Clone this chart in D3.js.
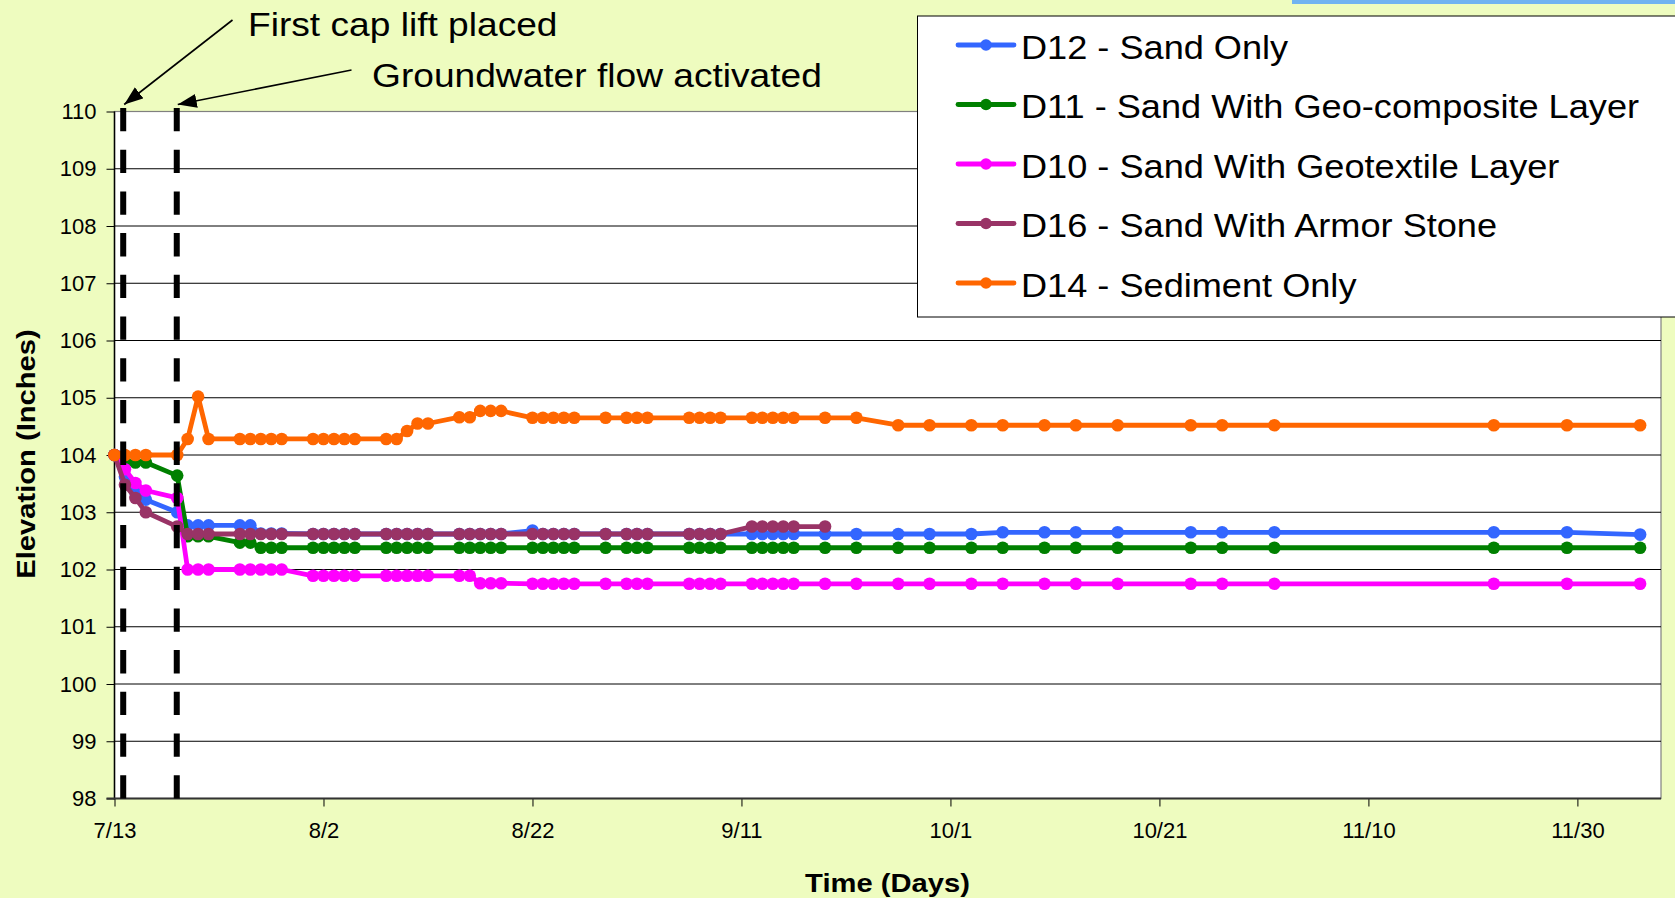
<!DOCTYPE html>
<html lang="en">
<head>
<meta charset="UTF-8">
<title>Cap elevation</title>
<script src="https://d3js.org/d3.v7.min.js"></script>
<style>
    html, body { margin: 0; height: 100%; overflow: hidden; background: #eefcbf; }
    text { font-family: "Liberation Sans", Arial, sans-serif; fill: #000; }
</style>
</head>
<body>
<svg id="svg"></svg>
<script>
    // sampling dates (M/D), all in one season
    const dates = ['7/13','7/14','7/15','7/16','7/19','7/20','7/21','7/22','7/25','7/26',
        '7/27','7/28','7/29','8/1','8/2','8/3','8/4','8/5','8/8','8/9',
        '8/10','8/11','8/12','8/15','8/16','8/17','8/18','8/19','8/22','8/23',
        '8/24','8/25','8/26','8/29','8/31','9/1','9/2','9/6','9/7','9/8',
        '9/9','9/12','9/13','9/14','9/15','9/16','9/19','9/22','9/26','9/29',
        '10/3','10/6','10/10','10/13','10/17','10/24','10/27','11/1','11/22','11/29',
        '12/6'];

    const d12 = [104,103.62,103.35,103.22,103.0,102.77,102.77,102.77,102.77,102.77,
        102.63,102.63,102.63,102.62,102.62,102.62,102.62,102.62,102.62,102.62,
        102.62,102.62,102.62,102.62,102.62,102.62,102.62,102.62,102.68,102.62,
        102.62,102.62,102.62,102.62,102.62,102.62,102.62,102.62,102.62,102.62,
        102.62,102.62,102.62,102.62,102.62,102.62,102.62,102.62,102.62,102.62,
        102.62,102.65,102.65,102.65,102.65,102.65,102.65,102.65,102.65,102.65,
        102.61];
    const d11 = [104,103.87,103.87,103.87,103.64,102.58,102.58,102.58,102.47,102.47,
        102.38,102.38,102.38,102.38,102.38,102.38,102.38,102.38,102.38,102.38,
        102.38,102.38,102.38,102.38,102.38,102.38,102.38,102.38,102.38,102.38,
        102.38,102.38,102.38,102.38,102.38,102.38,102.38,102.38,102.38,102.38,
        102.38,102.38,102.38,102.38,102.38,102.38,102.38,102.38,102.38,102.38,
        102.38,102.38,102.38,102.38,102.38,102.38,102.38,102.38,102.38,102.38,
        102.38];
    const d10 = [104,103.75,103.51,103.38,103.25,102.0,102.0,102.0,102.0,102.0,
        102.0,102.0,102.0,101.89,101.89,101.89,101.89,101.89,101.89,101.89,
        101.89,101.89,101.89,101.89,101.89,101.76,101.76,101.76,101.75,101.75,
        101.75,101.75,101.75,101.75,101.75,101.75,101.75,101.75,101.75,101.75,
        101.75,101.75,101.75,101.75,101.75,101.75,101.75,101.75,101.75,101.75,
        101.75,101.75,101.75,101.75,101.75,101.75,101.75,101.75,101.75,101.75,
        101.75];
    const d16 = [104,103.48,103.25,103.0,102.75,102.62,102.62,102.62,102.62,102.62,
        102.62,102.62,102.62,102.62,102.62,102.62,102.62,102.62,102.62,102.62,
        102.62,102.62,102.62,102.62,102.62,102.62,102.62,102.62,102.62,102.62,
        102.62,102.62,102.62,102.62,102.62,102.62,102.62,102.62,102.62,102.62,
        102.62,102.75,102.75,102.75,102.75,102.75,102.75,null,null,null,
        null,null,null,null,null,null,null,null,null,null,
        null];
    const d14 = [104,104,104,104,104,104.28,105.02,104.28,104.28,104.28,
        104.28,104.28,104.28,104.28,104.28,104.28,104.28,104.28,104.28,104.28,
        104.42,104.55,104.55,104.66,104.66,104.77,104.77,104.77,104.65,104.65,
        104.65,104.65,104.65,104.65,104.65,104.65,104.65,104.65,104.65,104.65,
        104.65,104.65,104.65,104.65,104.65,104.65,104.65,104.65,104.52,104.52,
        104.52,104.52,104.52,104.52,104.52,104.52,104.52,104.52,104.52,104.52,
        104.52];

    const seriesNames = ['D12 - Sand Only', 'D11 - Sand With Geo-composite Layer',
        'D10 - Sand With Geotextile Layer', 'D16 - Sand With Armor Stone', 'D14 - Sediment Only'];
    const seriesValues = [d12, d11, d10, d16, d14];
    const colors = ['#3366ff', '#008000', '#ff00ff', '#993366', '#ff6600'];

    const xTickLabels = ['7/13','8/2','8/22','9/11','10/1','10/21','11/10','11/30'];
    const yTicks = [98,99,100,101,102,103,104,105,106,107,108,109,110];
    const xStart = '7/13', xEnd = '12/8';

    // events: days after first date, label
    const eventDays = [0.84, 5.95];
    const eventLabels = ['First cap lift placed', 'Groundwater flow activated'];

    const W = 1675, H = 898;
    const svg = d3.select('#svg').attr('width', W).attr('height', H);
    const margin = { top: 111.5, left: 114.5, bottom: 99.5, right: 14 };

    const parse = s => d3.timeParse('%m/%d/%Y')(s + '/2006');
    const x = d3.scaleTime().domain([parse(xStart), parse(xEnd)]).range([margin.left, W - margin.right]);
    const y = d3.scaleLinear().domain([98, 110]).range([H - margin.bottom, margin.top]);

    // the original's text boxes are drawn a little wider than the font
    function stretch(sel, k) {
        sel.each(function () {
            const w = this.getComputedTextLength();
            d3.select(this).attr('textLength', w * k).attr('lengthAdjust', 'spacingAndGlyphs');
        });
    }

    svg.append('rect').attr('width', W).attr('height', H).attr('fill', '#eefcbf');
    svg.append('rect').attr('x', 1292).attr('y', 0).attr('width', W - 1292).attr('height', 4).attr('fill', '#71b3f0');

    // plot area
    const [x0, x1] = x.range();
    const [yb, yt] = y.range();
    svg.append('rect').attr('x', x0).attr('y', yt).attr('width', x1 - x0).attr('height', yb - yt)
        .attr('fill', '#fff').attr('stroke', '#808080').attr('stroke-width', 1.2);

    svg.append('g').selectAll('line').data(yTicks.filter(v => v > 98 && v < 110)).join('line')
        .attr('x1', x0).attr('x2', x1).attr('y1', d => y(d)).attr('y2', d => y(d))
        .attr('stroke', '#000').attr('stroke-width', 1);

    // axes
    const yAxis = svg.append('g').attr('transform', `translate(${x0},0)`)
        .call(d3.axisLeft(y).tickValues(yTicks).tickSize(8).tickPadding(10));
    yAxis.select('.domain').remove();
    yAxis.selectAll('text').attr('font-size', 22).attr('font-family', '"Liberation Sans", Arial, sans-serif');
    yAxis.selectAll('line').attr('stroke', '#000');

    const xAxis = svg.append('g').attr('transform', `translate(0,${yb})`)
        .call(d3.axisBottom(x).tickValues(xTickLabels.map(parse)).tickFormat(d3.timeFormat('%-m/%-d'))
            .tickSize(8).tickPadding(16));
    xAxis.select('.domain').remove();
    xAxis.selectAll('text').attr('font-size', 22).attr('font-family', '"Liberation Sans", Arial, sans-serif');
    xAxis.selectAll('line').attr('stroke', '#000');

    svg.append('line').attr('x1', x0).attr('x2', x0).attr('y1', yt).attr('y2', yb + 1)
        .attr('stroke', '#000').attr('stroke-width', 1.5);
    svg.append('line').attr('x1', x0 - 8).attr('x2', x1).attr('y1', yb).attr('y2', yb)
        .attr('stroke', '#333').attr('stroke-width', 2.2);

    // series
    const dateObjs = dates.map(parse);
    const line = d3.line().defined(d => d.v != null).x(d => x(d.t)).y(d => y(d.v));
    seriesValues.forEach((vals, i) => {
        const pts = vals.map((v, j) => ({ t: dateObjs[j], v }));
        const g = svg.append('g');
        g.append('path').datum(pts).attr('d', line).attr('fill', 'none')
            .attr('stroke', colors[i]).attr('stroke-width', 4.8).attr('stroke-linejoin', 'round');
        g.selectAll('circle').data(pts.filter(d => d.v != null)).join('circle')
            .attr('cx', d => x(d.t)).attr('cy', d => y(d.v)).attr('r', 6.3).attr('fill', colors[i]);
    });

    // event lines
    const start = parse(xStart);
    const evX = eventDays.map(d => x(d3.timeHour.offset(start, Math.round(d * 24))));
    svg.append('g').selectAll('line').data(evX).join('line')
        .attr('x1', d => d).attr('x2', d => d).attr('y1', yt - 3.5).attr('y2', yb)
        .attr('stroke', '#000').attr('stroke-width', 6).attr('stroke-dasharray', '23.3 18.4');

    svg.append('defs').append('marker').attr('id', 'arrow')
        .attr('markerUnits', 'userSpaceOnUse').attr('markerWidth', 20).attr('markerHeight', 16)
        .attr('refX', 19).attr('refY', 7).attr('orient', 'auto')
        .append('path').attr('d', 'M0,0 L19,7 L0,14 Z').attr('fill', '#000');

    const labelPos = [{ x: 248, y: 35.5, sx: 232.5, sy: 20 }, { x: 372, y: 87, sx: 351.5, sy: 70 }];
    eventLabels.forEach((lab, i) => {
        const p = labelPos[i];
        svg.append('line').attr('x1', p.sx).attr('y1', p.sy).attr('x2', evX[i] + 1).attr('y2', yt - 7)
            .attr('stroke', '#000').attr('stroke-width', 1.6).attr('marker-end', 'url(#arrow)');
        svg.append('text').attr('x', p.x).attr('y', p.y).attr('font-size', 33).text(lab).call(stretch, 1.125);
    });

    // axis titles
    svg.append('text').attr('transform', 'translate(35,454) rotate(-90)').attr('text-anchor', 'middle')
        .attr('font-size', 26.5).attr('font-weight', 'bold').text('Elevation (Inches)').call(stretch, 1.1);
    svg.append('text').attr('x', 887.5).attr('y', 891.7).attr('text-anchor', 'middle')
        .attr('font-size', 26.5).attr('font-weight', 'bold').text('Time (Days)').call(stretch, 1.1);

    // legend
    const lg = svg.append('g');
    lg.append('rect').attr('x', 917.5).attr('y', 16).attr('width', 800).attr('height', 301)
        .attr('fill', '#fff').attr('stroke', '#000').attr('stroke-width', 1);
    seriesNames.forEach((name, i) => {
        const ly = 45 + i * 59.5;
        lg.append('line').attr('x1', 958).attr('x2', 1014).attr('y1', ly).attr('y2', ly)
            .attr('stroke', colors[i]).attr('stroke-width', 4.8).attr('stroke-linecap', 'round');
        lg.append('circle').attr('cx', 986).attr('cy', ly).attr('r', 5.8).attr('fill', colors[i]);
        lg.append('text').attr('x', 1021).attr('y', ly + 13.5).attr('font-size', 34).text(name).call(stretch, 1.063);
    });
</script>
</body>
</html>
